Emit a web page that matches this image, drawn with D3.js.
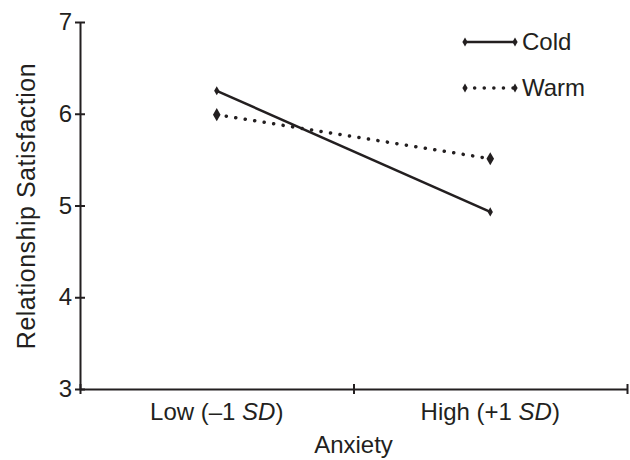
<!DOCTYPE html>
<html lang="en">
<head>
<meta charset="UTF-8">
<script src="https://d3js.org/d3.v7.min.js"></script>
<title>Relationship Satisfaction by Anxiety</title>
<style>
	body { margin: 0; background: white; }
	svg { display: block; font-family: "Liberation Sans", Arial, sans-serif; }
	.axis path, .axis line { stroke: #231f20; stroke-width: 2px; }
	.axis text { fill: #231f20; font-size: 24px; font-family: "Liberation Sans", Arial, sans-serif; }
</style>
</head>
<body>
<script>
	// values
	const categories = ["Low", "High"];
	const catLabels = [["Low (\u20131 ", "SD", ")"], ["High (+1 ", "SD", ")"]];
	const cold = [6.25, 4.93];
	const warm = [5.99, 5.51];
	const yTicks = [3, 4, 5, 6, 7];
	const seriesNames = ["Cold", "Warm"];

	const W = 630, H = 460;
	const ink = "#231f20";

	const svg = d3.select("body").append("svg")
		.attr("width", W)
		.attr("height", H);

	// scales
	const x = d3.scaleBand().domain(categories).range([80, 627]).padding(0);
	const xEdge = d3.scaleLinear().domain([0, categories.length]).range([80, 627]);
	const y = d3.scaleLinear().domain([3, 7]).range([389, 22]);

	// y axis
	const yAxis = svg.append("g")
		.attr("class", "axis")
		.attr("transform", "translate(80,0)")
		.call(d3.axisLeft(y).tickValues(yTicks).tickFormat(d3.format("d")).tickSizeOuter(0));
	yAxis.selectAll(".tick line").attr("x1", 5).attr("x2", -5);
	yAxis.selectAll(".tick text").attr("x", -8);

	// x axis, ticks at the band edges
	const xAxis = svg.append("g")
		.attr("class", "axis")
		.attr("transform", "translate(0,389)")
		.call(d3.axisBottom(xEdge).tickValues(d3.range(categories.length + 1)).tickFormat("").tickSizeOuter(0));
	xAxis.selectAll(".tick line").attr("y1", -5).attr("y2", 5);

	// category labels with italic SD
	const catText = svg.append("g").selectAll("text")
		.data(categories)
		.join("text")
		.attr("x", d => x(d) + x.bandwidth() / 2)
		.attr("y", 420)
		.attr("text-anchor", "middle")
		.attr("fill", ink)
		.attr("font-size", 24);
	catText.each(function (d, i) {
		const t = d3.select(this);
		catLabels[i].forEach((part, j) => {
			t.append("tspan").text(part).attr("font-style", j === 1 ? "italic" : "normal");
		});
	});

	// axis titles
	svg.append("text")
		.attr("x", xEdge(1))
		.attr("y", 453)
		.attr("text-anchor", "middle")
		.attr("fill", ink)
		.attr("font-size", 24)
		.text("Anxiety");

	svg.append("text")
		.attr("transform", "translate(35,206) rotate(-90)")
		.attr("text-anchor", "middle")
		.attr("fill", ink)
		.attr("font-size", 25)
		.attr("letter-spacing", 0.5)
		.text("Relationship Satisfaction");

	// lines
	const line = d3.line()
		.x((d, i) => x(categories[i]) + x.bandwidth() / 2)
		.y(d => y(d));

	svg.append("path")
		.datum(warm)
		.attr("d", line)
		.attr("fill", "none")
		.attr("stroke", ink)
		.attr("stroke-width", 3.5)
		.attr("stroke-linecap", "round")
		.attr("stroke-dasharray", "0.1 9.5");

	svg.append("path")
		.datum(cold)
		.attr("d", line)
		.attr("fill", "none")
		.attr("stroke", ink)
		.attr("stroke-width", 2.5);

	// diamond markers
	const smallDiamond = d3.symbol().type(d3.symbolDiamond).size(24);
	const bigDiamond = d3.symbol().type(d3.symbolDiamond).size(50);

	svg.append("g").selectAll("path")
		.data(cold)
		.join("path")
		.attr("transform", (d, i) => `translate(${x(categories[i]) + x.bandwidth() / 2},${y(d)})`)
		.attr("d", smallDiamond)
		.attr("fill", ink);

	svg.append("g").selectAll("path")
		.data(warm)
		.join("path")
		.attr("transform", (d, i) => `translate(${x(categories[i]) + x.bandwidth() / 2},${y(d)})`)
		.attr("d", bigDiamond)
		.attr("fill", ink);

	// legend
	const legend = svg.append("g").selectAll("g")
		.data(seriesNames)
		.join("g")
		.attr("transform", (d, i) => `translate(465,${42 + i * 46})`);

	legend.append("line")
		.attr("x1", 0).attr("x2", 50)
		.attr("stroke", ink)
		.attr("stroke-width", (d, i) => i === 0 ? 2.5 : 3.5)
		.attr("stroke-linecap", (d, i) => i === 0 ? "butt" : "round")
		.attr("stroke-dasharray", (d, i) => i === 0 ? null : "0.1 9.5");

	legend.selectAll("path")
		.data([0, 50])
		.join("path")
		.attr("transform", d => `translate(${d},0)`)
		.attr("d", d3.symbol().type(d3.symbolDiamond).size(24))
		.attr("fill", ink);

	legend.append("text")
		.attr("x", 57)
		.attr("dy", "0.35em")
		.attr("fill", ink)
		.attr("font-size", 24)
		.text(d => d);
</script>
</body>
</html>
